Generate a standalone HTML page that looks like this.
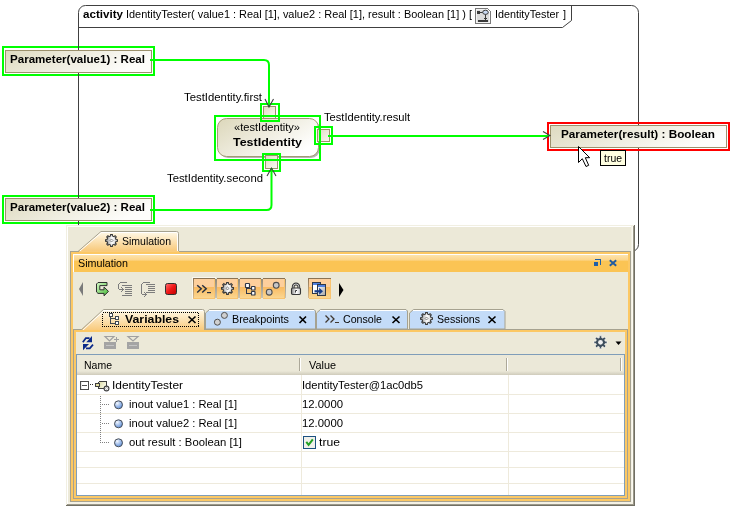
<!DOCTYPE html>
<html><head><meta charset="utf-8">
<style>
html,body{margin:0;padding:0;background:#fff;}
body{width:734px;height:510px;overflow:hidden;position:relative;}
svg{position:absolute;left:0;top:0;will-change:transform;}
text{font-family:"Liberation Sans",sans-serif;font-size:11px;fill:#000;}
.b{font-weight:bold;}
</style></head>
<body>
<svg width="734" height="510" viewBox="0 0 734 510">
<defs>
  <linearGradient id="gParam" x1="0" y1="0" x2="1" y2="0.3">
    <stop offset="0" stop-color="#DEDAC0"/>
    <stop offset="1" stop-color="#FDFDFB"/>
  </linearGradient>
  <linearGradient id="gNode" x1="0" y1="0" x2="1" y2="0.6">
    <stop offset="0" stop-color="#DCD7BA"/>
    <stop offset="1" stop-color="#FFFFFF"/>
  </linearGradient>
  <linearGradient id="gPin" x1="0" y1="0" x2="1" y2="1">
    <stop offset="0" stop-color="#E0DCC4"/>
    <stop offset="1" stop-color="#FAF9F3"/>
  </linearGradient>
</defs>

<!-- activity frame -->
<rect x="78.5" y="5.5" width="560" height="246" rx="7" ry="7" fill="none" stroke="#404040" stroke-width="1"/>
<path d="M78 27.5 H562.5 L571.5 20.5 V5" fill="none" stroke="#404040" stroke-width="1"/>
<text x="83" y="18" class="b" textLength="40" lengthAdjust="spacingAndGlyphs">activity</text>
<text x="126" y="18" textLength="346" lengthAdjust="spacingAndGlyphs">IdentityTester( value1 : Real [1], value2 : Real [1], result : Boolean [1] ) [</text>
<!-- diagram icon -->
<g shape-rendering="crispEdges">
  <path d="M475 8 H487 L491 12 V24 H475 Z" fill="#7A7A7A"/>
  <path d="M476 9 H487 L490 12 V23 H476 Z" fill="#F4F4F4"/>
  <rect x="477" y="10" width="12" height="12" fill="#DCDCDC"/>
  <path d="M487 9 L490 12 H487 Z" fill="#FFFFFF"/>
  <rect x="477" y="11" width="3" height="3" fill="#3A3A3A"/>
  <rect x="480" y="12" width="3" height="1" fill="#3A3A3A"/>
  <rect x="485" y="14" width="1" height="6" fill="#3A3A3A"/>
  <rect x="484" y="18" width="3" height="1" fill="#3A3A3A"/>
  <rect x="478" y="20" width="10" height="2" fill="#3A3A3A"/>
</g>
<ellipse cx="485.5" cy="12.3" rx="2.8" ry="2.1" fill="#C8D8F0" stroke="#3A3A3A" stroke-width="1"/>
<text x="495" y="18" textLength="64" lengthAdjust="spacingAndGlyphs">IdentityTester</text><text x="563" y="18">]</text>

<!-- param boxes -->
<rect x="5.5" y="50.5" width="146" height="22" fill="url(#gParam)" stroke="#9C916C"/>
<text x="10" y="63" class="b" textLength="135" lengthAdjust="spacingAndGlyphs">Parameter(value1) : Real</text>
<rect x="5.5" y="198.5" width="146" height="22" fill="url(#gParam)" stroke="#9C916C"/>
<text x="10" y="211" class="b" textLength="135" lengthAdjust="spacingAndGlyphs">Parameter(value2) : Real</text>
<rect x="550.5" y="125.5" width="176" height="22" fill="url(#gParam)" stroke="#9C916C"/>
<text x="561" y="138" class="b" textLength="154" lengthAdjust="spacingAndGlyphs">Parameter(result) : Boolean</text>

<!-- node -->
<rect x="219" y="120" width="101" height="38" rx="9" ry="9" fill="#B4B4B4"/>
<rect x="217.5" y="118.5" width="101" height="38" rx="9" ry="9" fill="url(#gNode)" stroke="#A39A74"/>
<text x="234" y="131" textLength="66" lengthAdjust="spacingAndGlyphs">«testIdentity»</text>
<text x="233" y="146" class="b" textLength="69" lengthAdjust="spacingAndGlyphs">TestIdentity</text>

<!-- pins -->
<rect x="263.5" y="106.5" width="12" height="12" fill="url(#gPin)" stroke="#9C916C"/>
<rect x="265.5" y="155.5" width="12" height="13" fill="url(#gPin)" stroke="#9C916C"/>
<rect x="317.5" y="129.5" width="12" height="12" fill="url(#gPin)" stroke="#9C916C"/>

<!-- labels -->
<text x="184" y="101" textLength="78" lengthAdjust="spacingAndGlyphs">TestIdentity.first</text>
<text x="167" y="182" textLength="96" lengthAdjust="spacingAndGlyphs">TestIdentity.second</text>
<text x="324" y="121" textLength="86" lengthAdjust="spacingAndGlyphs">TestIdentity.result</text>

<!-- selection rects -->
<g fill="none" stroke="#00FF00" stroke-width="2">
  <rect x="3" y="47" width="151" height="28"/>
  <rect x="3" y="196" width="151" height="27"/>
  <rect x="215" y="116" width="105" height="44"/>
  <rect x="261" y="104" width="18" height="17"/>
  <rect x="263" y="154" width="17" height="17"/>
  <rect x="315" y="127" width="17" height="17"/>
</g>
<rect x="548" y="123" width="181" height="27" fill="none" stroke="#FF0000" stroke-width="2"/>

<g fill="#404040" shape-rendering="crispEdges">
  <rect x="78" y="45" width="1" height="4"/>
  <rect x="78" y="73" width="1" height="4"/>
  <rect x="78" y="194" width="1" height="4"/>
  <rect x="78" y="221" width="1" height="4"/>
</g>
<!-- edges -->
<g fill="none" stroke="#00FF00" stroke-width="2">
  <path d="M150 60 H264 Q269 60 269 65 V107"/>
  <path d="M150 210 H266.5 Q271.5 210 271.5 205 V168"/>
  <path d="M328 136 H549"/>
</g>
<g fill="none" stroke="#404040" stroke-width="1.1">
  <path d="M265 99 L269 107 L273.5 99"/>
  <path d="M267 176 L271.5 168 L276 176"/>
  <path d="M543 131.5 L550 135.5 L543 139.5"/>
</g>

<!-- cursor -->
<path d="M578.5 146.5 V162.5 L582.3 158.7 L586 166.5 L588.7 165.3 L585.3 157.7 L589.7 157.7 Z" fill="#fff" stroke="#000" stroke-width="1"/>
<!-- tooltip -->
<rect x="600.5" y="150.5" width="25" height="15" fill="#FFFFE1" stroke="#000"/>
<text x="604" y="162" style="font-size:10px" textLength="18" lengthAdjust="spacingAndGlyphs">true</text>
</svg>

<svg width="734" height="510" viewBox="0 0 734 510" shape-rendering="crispEdges">
<defs>
  <linearGradient id="gTabSel" x1="0" y1="0" x2="0" y2="1">
    <stop offset="0" stop-color="#FFFAEA"/>
    <stop offset="1" stop-color="#F8C878"/>
  </linearGradient>
  <linearGradient id="gTitle" x1="0" y1="0" x2="0" y2="1">
    <stop offset="0" stop-color="#FDE3AC"/>
    <stop offset="0.3" stop-color="#FCD58A"/>
    <stop offset="0.36" stop-color="#FBC454"/>
    <stop offset="1" stop-color="#FBC454"/>
  </linearGradient>
  <linearGradient id="gBtn" x1="0" y1="0" x2="0" y2="1">
    <stop offset="0" stop-color="#FCD6AC"/>
    <stop offset="0.45" stop-color="#FBCB98"/>
    <stop offset="0.5" stop-color="#F9BD70"/>
    <stop offset="1" stop-color="#FAC77E"/>
  </linearGradient>
  <linearGradient id="gBtnLo" x1="0" y1="0" x2="0" y2="1">
    <stop offset="0" stop-color="#F9BA60"/>
    <stop offset="1" stop-color="#FBD690"/>
  </linearGradient>
  <linearGradient id="gBtnL" x1="0" y1="0" x2="0" y2="1">
    <stop offset="0" stop-color="#8C7454"/>
    <stop offset="1" stop-color="#D8B888"/>
  </linearGradient>
  <linearGradient id="gBtnGap" x1="0" y1="0" x2="0" y2="1">
    <stop offset="0" stop-color="#948A76"/>
    <stop offset="1" stop-color="#C8C2B2"/>
  </linearGradient>
  <linearGradient id="gSilver2" x1="0" y1="0" x2="1" y2="1">
    <stop offset="0" stop-color="#FFFFFF"/>
    <stop offset="1" stop-color="#A8A8A8"/>
  </linearGradient>
  <radialGradient id="gBall" cx="0.35" cy="0.3" r="0.75">
    <stop offset="0" stop-color="#F4F8FF"/>
    <stop offset="1" stop-color="#5A8CD8"/>
  </radialGradient>
  <linearGradient id="gClass" x1="0" y1="0" x2="1" y2="0.4">
    <stop offset="0" stop-color="#DCDCA8"/>
    <stop offset="1" stop-color="#F8F8E4"/>
  </linearGradient>
  <linearGradient id="gHdr" x1="0" y1="0" x2="0" y2="1">
    <stop offset="0" stop-color="#EBE8D8"/>
    <stop offset="0.8" stop-color="#EBE8D8"/>
    <stop offset="1" stop-color="#CFCBBB"/>
  </linearGradient>
  <linearGradient id="gSilver" x1="0" y1="0" x2="1" y2="0">
    <stop offset="0" stop-color="#8C8C8C"/>
    <stop offset="0.55" stop-color="#FFFFFF"/>
    <stop offset="1" stop-color="#C8C8C8"/>
  </linearGradient>
  <linearGradient id="gGreen" x1="0" y1="0" x2="1" y2="1">
    <stop offset="0" stop-color="#D8F8C8"/>
    <stop offset="1" stop-color="#40B830"/>
  </linearGradient>
  <linearGradient id="gRed" x1="0" y1="0" x2="1" y2="1">
    <stop offset="0" stop-color="#FF7070"/>
    <stop offset="0.5" stop-color="#F01818"/>
    <stop offset="1" stop-color="#C00000"/>
  </linearGradient>
</defs>
<!-- panel body -->
<rect x="66" y="225" width="569" height="281" fill="#ECE9D8"/>
<rect x="66" y="225" width="568" height="1" fill="#F1EFE2"/>
<rect x="66" y="225" width="1" height="280" fill="#F1EFE2"/>
<rect x="67" y="226" width="566" height="1" fill="#FFFFFF"/>
<rect x="67" y="226" width="1" height="278" fill="#FFFFFF"/>
<rect x="631" y="226" width="1" height="278" fill="#F4F1E4"/>
<rect x="632" y="226" width="1" height="278" fill="#FBFAF2"/>
<rect x="633" y="226" width="1" height="279" fill="#9C998A"/>
<rect x="634" y="225" width="1" height="281" fill="#716F64"/>
<rect x="68" y="502" width="565" height="2" fill="#F4F1E4"/>
<rect x="67" y="504" width="567" height="1" fill="#9C998A"/>
<rect x="66" y="505" width="569" height="1" fill="#716F64"/>

<!-- outer orange frame -->
<rect x="70" y="251" width="561" height="251" fill="#A6A290"/>
<rect x="71" y="252" width="559" height="249" fill="#FCC864"/>
<rect x="73" y="254" width="555" height="245" fill="#ECE9D8"/>
<!-- title bar -->
<rect x="73" y="254" width="555" height="1" fill="#FFFFFF"/>
<rect x="73" y="254" width="1" height="18" fill="#FFFFFF"/>
<rect x="74" y="255" width="554" height="17" fill="url(#gTitle)"/>
<text x="78" y="267" textLength="50" lengthAdjust="spacingAndGlyphs">Simulation</text>
<!-- restore & close icons -->
<g fill="#1F5FA8">
  <rect x="595" y="259" width="6" height="1"/>
  <rect x="600" y="259" width="1" height="6"/>
  <rect x="595" y="262" width="1" height="1"/>
  <rect x="594" y="262" width="4" height="4"/>
</g>
<path d="M609.8 260.3 L616.2 265.7 M616.2 260.3 L609.8 265.7" stroke="#1E5AA0" stroke-width="1.9" shape-rendering="auto"/>

<!-- top Simulation tab -->
<path d="M78 251.5 L101 231.5 H176.5 Q178.5 231.5 178.5 233.5 V251.5 Z" fill="url(#gTabSel)" stroke="#A6A290" stroke-width="1" shape-rendering="auto"/>
<path d="M80 251 L101.5 232.5 H176.5 Q177.5 232.5 177.5 233.5 V251" fill="none" stroke="#FFFFFF" stroke-width="1" shape-rendering="auto"/>
<rect x="79" y="251" width="100" height="1" fill="#F9CC7C"/>
<g shape-rendering="auto">
  <path d="M117.44 239.65 L117.44 241.35 L116.01 241.42 L115.34 243.04 L116.30 244.10 L115.10 245.30 L114.04 244.34 L112.42 245.01 L112.35 246.44 L110.65 246.44 L110.58 245.01 L108.96 244.34 L107.90 245.30 L106.70 244.10 L107.66 243.04 L106.99 241.42 L105.56 241.35 L105.56 239.65 L106.99 239.58 L107.66 237.96 L106.70 236.90 L107.90 235.70 L108.96 236.66 L110.58 235.99 L110.65 234.56 L112.35 234.56 L112.42 235.99 L114.04 236.66 L115.10 235.70 L116.30 236.90 L115.34 237.96 L116.01 239.58 Z" fill="url(#gSilver)" stroke="#383838" stroke-width="1.1"/>
  <path d="M111.5 239 L113 240.5 L111.5 242 L110 240.5 Z" fill="none" stroke="#707070" stroke-width="0.8"/>
</g>
<text x="122" y="245" textLength="49" lengthAdjust="spacingAndGlyphs">Simulation</text>

<!-- toolbar -->
<g shape-rendering="auto">
  <path d="M83 282 L79 289 L83 296 Z" fill="#7A7A7A"/>
  <path d="M96.5 284 L98 282.5 H107 V285.6 H99.8 V289.8 H104 V287 L108.5 291.4 L104 295.8 V293.4 H98 L96.5 292 Z" fill="url(#gGreen)" stroke="#303030" stroke-width="1"/>
  <g fill="#7C7C7C" shape-rendering="crispEdges">
    <rect x="120" y="282" width="7" height="1"/>
    <rect x="119" y="283" width="1" height="1"/>
    <rect x="118" y="284" width="1" height="5"/>
    <rect x="119" y="289" width="5" height="1"/>
    <rect x="121" y="287" width="1" height="1"/><rect x="122" y="288" width="1" height="1"/>
    <rect x="122" y="290" width="1" height="1"/><rect x="121" y="291" width="1" height="1"/>
    <rect x="122" y="285" width="10" height="1"/>
    <rect x="125" y="287" width="7" height="1"/>
    <rect x="125" y="289" width="7" height="1"/>
    <rect x="125" y="291" width="7" height="1"/>
    <rect x="125" y="293" width="7" height="1"/>
    <rect x="122" y="295" width="10" height="1"/>
    <rect x="143" y="282" width="7" height="1"/>
    <rect x="142" y="283" width="1" height="1"/>
    <rect x="141" y="284" width="1" height="10"/>
    <rect x="142" y="294" width="5" height="1"/>
    <rect x="144" y="292" width="1" height="1"/><rect x="145" y="293" width="1" height="1"/>
    <rect x="145" y="295" width="1" height="1"/><rect x="144" y="296" width="1" height="1"/>
    <rect x="146" y="284" width="9" height="1"/>
    <rect x="148" y="286" width="7" height="1"/>
    <rect x="148" y="288" width="7" height="1"/>
    <rect x="148" y="290" width="7" height="1"/>
    <rect x="146" y="292" width="9" height="1"/>
  </g>
  <rect x="165.5" y="283.5" width="11" height="11" rx="2" ry="2" fill="url(#gRed)" stroke="#303030" stroke-width="1"/>
</g>
<!-- toggle buttons -->
<g>
  <rect x="192" y="277" width="24" height="1" fill="#FAF8F0"/>
  <rect x="192" y="277" width="1" height="22" fill="#FAF8F0"/>
  <rect x="193" y="278" width="22" height="21" fill="#F9C470"/>
  <rect x="193" y="279" width="21" height="8" fill="#FDCF9C"/>
  <rect x="193" y="287" width="21" height="11" fill="url(#gBtnLo)"/>
  <rect x="193" y="278" width="22" height="1" fill="#8C7454"/>
  <rect x="217" y="278" width="21" height="21" fill="#F9C470"/>
  <rect x="217" y="279" width="20" height="8" fill="#FDCF9C"/>
  <rect x="217" y="287" width="20" height="11" fill="url(#gBtnLo)"/>
  <rect x="217" y="278" width="21" height="1" fill="#8C7454"/>
  <rect x="240" y="278" width="21" height="21" fill="#F9C470"/>
  <rect x="240" y="279" width="20" height="8" fill="#FDCF9C"/>
  <rect x="240" y="287" width="20" height="11" fill="url(#gBtnLo)"/>
  <rect x="240" y="278" width="21" height="1" fill="#8C7454"/>
  <rect x="263" y="278" width="22" height="21" fill="#F9C470"/>
  <rect x="263" y="279" width="21" height="8" fill="#FDCF9C"/>
  <rect x="263" y="287" width="21" height="11" fill="url(#gBtnLo)"/>
  <rect x="263" y="278" width="22" height="1" fill="#8C7454"/>
  <rect x="309" y="278" width="22" height="21" fill="#F9C470"/>
  <rect x="309" y="279" width="21" height="8" fill="#FDCF9C"/>
  <rect x="309" y="287" width="21" height="11" fill="url(#gBtnLo)"/>
  <rect x="309" y="278" width="22" height="1" fill="#8C7454"/>
  <rect x="193" y="278" width="1" height="20" fill="url(#gBtnL)"/>
  <rect x="215" y="279" width="2" height="19" fill="url(#gBtnGap)"/>
  <rect x="238" y="279" width="2" height="19" fill="url(#gBtnGap)"/>
  <rect x="261" y="279" width="2" height="19" fill="url(#gBtnGap)"/>
  <rect x="285" y="279" width="1" height="19" fill="url(#gBtnGap)"/>
  <rect x="308" y="278" width="1" height="20" fill="url(#gBtnL)"/>
</g>
<g shape-rendering="auto">
  <!-- >>_ -->
  <path d="M197.2 285.2 L201.2 288.8 L197.2 292.5 M202.2 285.2 L206.2 288.8 L202.2 292.5" fill="none" stroke="#283040" stroke-width="1.5"/>
  <rect x="207" y="292" width="4" height="1.2" fill="#283040"/>
  <!-- gear -->
  <path d="M233.44 287.55 L233.44 289.25 L232.01 289.32 L231.34 290.94 L232.30 292.00 L231.10 293.20 L230.04 292.24 L228.42 292.91 L228.35 294.34 L226.65 294.34 L226.58 292.91 L224.96 292.24 L223.90 293.20 L222.70 292.00 L223.66 290.94 L222.99 289.32 L221.56 289.25 L221.56 287.55 L222.99 287.48 L223.66 285.86 L222.70 284.80 L223.90 283.60 L224.96 284.56 L226.58 283.89 L226.65 282.46 L228.35 282.46 L228.42 283.89 L230.04 284.56 L231.10 283.60 L232.30 284.80 L231.34 285.86 L232.01 287.48 Z" fill="url(#gSilver)" stroke="#383838" stroke-width="1.1"/>
  <path d="M227.5 287 L229 288.4 L227.5 290 L226 288.4 Z" fill="none" stroke="#707070" stroke-width="0.8"/>
  <!-- tree -->
  <g fill="#303848" shape-rendering="crispEdges">
    <rect x="246" y="287" width="1" height="7"/>
    <rect x="246" y="288" width="6" height="1"/>
    <rect x="246" y="293" width="6" height="1"/>
  </g>
  <rect x="245.5" y="283.5" width="4" height="4" rx="0.6" fill="#fff" stroke="#303848" stroke-width="1.2"/>
  <rect x="251.5" y="286.5" width="3.5" height="3.5" rx="0.6" fill="#fff" stroke="#303848" stroke-width="1.2"/>
  <rect x="251.5" y="291.5" width="3.5" height="3.5" rx="0.6" fill="#fff" stroke="#303848" stroke-width="1.2"/>
  <!-- breakpoints -->
  <circle cx="269.2" cy="292.2" r="2.9" fill="#C8C8C8" stroke="#505050" stroke-width="1.1"/>
  <circle cx="276.2" cy="285.3" r="2.9" fill="#C8C8C8" stroke="#505050" stroke-width="1.1"/>
  <!-- lock -->
  <path d="M293.2 289 V286.8 A2.8 2.8 0 0 1 298.8 286.8 V289" fill="none" stroke="#383838" stroke-width="2.8"/>
  <path d="M293.2 289 V286.8 A2.8 2.8 0 0 1 298.8 286.8 V289" fill="none" stroke="#D8D8D8" stroke-width="0.9"/>
  <rect x="291.5" y="288" width="9" height="6.5" rx="1.2" fill="url(#gSilver)" stroke="#383838" stroke-width="1.1"/>
  <path d="M295.5 292.5 V290.5 H297" fill="none" stroke="#383838" stroke-width="1"/>
  <!-- windows icon -->
  <g shape-rendering="crispEdges">
  <rect x="312" y="282" width="9" height="12" fill="#303848"/>
  <rect x="313" y="283" width="7" height="10" fill="#FFFFFF"/>
  <rect x="313" y="283" width="7" height="2" fill="#5080E0"/>
  <rect x="317" y="284" width="9" height="12" fill="#303848"/>
  <rect x="318" y="285" width="7" height="10" fill="url(#gSilver2)"/>
  <rect x="318" y="285" width="7" height="2" fill="#5080E0"/>
  </g>
  <path d="M314.5 291.3 H320" stroke="#183C88" stroke-width="2.2" fill="none"/>
  <path d="M319.2 287.8 L323 291.3 L319.2 294.8 Z" fill="#183C88"/>
  <!-- right arrow -->
  <path d="M339 283 L343.5 290 L339 297 Z" fill="#000"/>
</g>

<!-- inner tab frame -->
<rect x="73" y="329" width="555" height="170" fill="#A6A290"/>
<rect x="74" y="330" width="553" height="168" fill="#FCC864"/>
<rect x="76" y="332" width="549" height="164" fill="#ECE9D8"/>

<!-- tabs -->
<g shape-rendering="auto">
  <!-- Variables (selected) -->
  <path d="M80 331 L103.5 309.5 H202.5 Q204.5 309.5 204.5 311.5 V331 Z" fill="url(#gTabSel)" stroke="#A6A290" stroke-width="1"/>
  <path d="M82 331 L104 310.5 H203" fill="none" stroke="#FFFFFF" stroke-width="1"/>
  <!-- Breakpoints -->
  <path d="M205.5 329 V313 L209.5 309.5 H314 L315.5 311 V329 Z" fill="#C3DBF8" stroke="#A6A290" stroke-width="1"/>
  <path d="M209 310.5 H314" stroke="#FFFFFF" stroke-width="1"/>
  <!-- Console -->
  <path d="M316.5 329 V313 L320.5 309.5 H406 L407.5 311 V329 Z" fill="#C3DBF8" stroke="#A6A290" stroke-width="1"/>
  <path d="M320 310.5 H406" stroke="#FFFFFF" stroke-width="1"/>
  <!-- Sessions -->
  <path d="M409.5 329 V313 L413.5 309.5 H503 L505 311.5 V329 Z" fill="#C3DBF8" stroke="#A6A290" stroke-width="1"/>
  <path d="M413 310.5 H503" stroke="#FFFFFF" stroke-width="1"/>
</g>
<rect x="74" y="330" width="553" height="2" fill="#FCC864"/>
<!-- focus rect -->
<rect x="102.5" y="312.5" width="96" height="14" fill="none" stroke="#000" stroke-width="1" stroke-dasharray="1 1"/>
<!-- variables tree icon -->
<g>
  <rect x="110" y="317" width="1" height="7" fill="#404850"/>
  <rect x="110" y="318" width="6" height="1" fill="#404850"/>
  <rect x="110" y="323" width="6" height="1" fill="#404850"/>
  <rect x="109.5" y="313.5" width="3" height="3" fill="#fff" stroke="#404850"/>
  <rect x="115.5" y="316.5" width="3" height="3" fill="#fff" stroke="#404850"/>
  <rect x="115.5" y="321.5" width="3" height="3" fill="#fff" stroke="#404850"/>
</g>
<text x="125" y="323" class="b" textLength="54" lengthAdjust="spacingAndGlyphs">Variables</text>
<path d="M188.5 316.5 L195.5 323 M195.5 316.5 L188.5 323" stroke="#000" stroke-width="1.6" shape-rendering="auto"/>
<g shape-rendering="auto">
  <circle cx="217.4" cy="322.2" r="3" fill="#D0D0D0" stroke="#505050"/>
  <circle cx="224.4" cy="315.4" r="3" fill="#D0D0D0" stroke="#505050"/>
</g>
<text x="232" y="323" textLength="57" lengthAdjust="spacingAndGlyphs">Breakpoints</text>
<path d="M299.5 316.5 L306 323 M306 316.5 L299.5 323" stroke="#000" stroke-width="1.6" shape-rendering="auto"/>
<path d="M325.5 315.5 L329 319 L325.5 322.5 M330.5 315.5 L334 319 L330.5 322.5" fill="none" stroke="#403830" stroke-width="1.3" shape-rendering="auto"/>
<rect x="335" y="322" width="4" height="1" fill="#403830"/>
<text x="343" y="323" textLength="39" lengthAdjust="spacingAndGlyphs">Console</text>
<path d="M392.5 316.5 L399.5 323 M399.5 316.5 L392.5 323" stroke="#000" stroke-width="1.6" shape-rendering="auto"/>
<g shape-rendering="auto">
  <path d="M432.44 317.65 L432.44 319.35 L431.01 319.42 L430.34 321.04 L431.30 322.10 L430.10 323.30 L429.04 322.34 L427.42 323.01 L427.35 324.44 L425.65 324.44 L425.58 323.01 L423.96 322.34 L422.90 323.30 L421.70 322.10 L422.66 321.04 L421.99 319.42 L420.56 319.35 L420.56 317.65 L421.99 317.58 L422.66 315.96 L421.70 314.90 L422.90 313.70 L423.96 314.66 L425.58 313.99 L425.65 312.56 L427.35 312.56 L427.42 313.99 L429.04 314.66 L430.10 313.70 L431.30 314.90 L430.34 315.96 L431.01 317.58 Z" fill="url(#gSilver)" stroke="#383838" stroke-width="1.1"/>
  <path d="M426.5 317 L428 318.5 L426.5 320 L425 318.5 Z" fill="none" stroke="#707070" stroke-width="0.8"/>
</g>
<text x="437" y="323" textLength="43" lengthAdjust="spacingAndGlyphs">Sessions</text>
<path d="M488.5 316.5 L495.5 323 M495.5 316.5 L488.5 323" stroke="#000" stroke-width="1.6" shape-rendering="auto"/>

<!-- table toolbar -->
<g shape-rendering="auto">
  <path d="M82.8 342.2 L85.8 338.2 H89.5" fill="none" stroke="#0A2A8A" stroke-width="1.7"/>
  <path d="M92 336 V342.3 H86.3 Z" fill="#0A2A8A"/>
  <path d="M83 344 H89 L83 350.3 Z" fill="#0A2A8A"/>
  <path d="M86 348.3 H89.8 L93 344.6" fill="none" stroke="#0A2A8A" stroke-width="1.7"/>
  <path d="M105 336.5 H114 L109.5 341 Z" fill="none" stroke="#A0A0A0" stroke-width="1.2"/>
  <rect x="116" y="337" width="1" height="5" fill="#A0A0A0" shape-rendering="crispEdges"/><rect x="114" y="339" width="5" height="1" fill="#A0A0A0" shape-rendering="crispEdges"/>
  <rect x="104" y="342" width="12" height="7" fill="#A4A4A4"/>
  <rect x="106" y="345" width="8" height="1" fill="#C4C4C4"/>
  <path d="M128 336.5 H138 L133 341 Z" fill="none" stroke="#A0A0A0" stroke-width="1.2"/>
  <rect x="127" y="342" width="12" height="7" fill="#A4A4A4"/>
  <rect x="129" y="345" width="8" height="1" fill="#C4C4C4"/>
  <!-- gear right -->
  <path d="M607.00 341.14 L607.00 343.46 L605.18 343.39 L604.57 344.84 L605.91 346.07 L604.27 347.71 L603.04 346.37 L601.59 346.98 L601.66 348.80 L599.34 348.80 L599.41 346.98 L597.96 346.37 L596.73 347.71 L595.09 346.07 L596.43 344.84 L595.82 343.39 L594.00 343.46 L594.00 341.14 L595.82 341.21 L596.43 339.76 L595.09 338.53 L596.73 336.89 L597.96 338.23 L599.41 337.62 L599.34 335.80 L601.66 335.80 L601.59 337.62 L603.04 338.23 L604.27 336.89 L605.91 338.53 L604.57 339.76 L605.18 341.21 Z" fill="#3E4E5C" stroke="#FFFFFF" stroke-width="0.8" stroke-opacity="0.7"/>
  <circle cx="600.5" cy="342.3" r="2.4" fill="#F0F0F0"/>
  <path d="M615.5 341.5 H621.5 L618.5 345 Z" fill="#000"/>
</g>

<!-- table -->
<rect x="76" y="354" width="549" height="142" fill="#7F9DB9"/>
<rect x="77" y="355" width="547" height="140" fill="#FFFFFF"/>
<rect x="77" y="355" width="547" height="20" fill="url(#gHdr)"/>
<rect x="299" y="358" width="1" height="13" fill="#ACA899"/>
<rect x="300" y="358" width="1" height="13" fill="#FFFFFF"/>
<rect x="506" y="358" width="1" height="13" fill="#ACA899"/>
<rect x="507" y="358" width="1" height="13" fill="#FFFFFF"/>
<rect x="620" y="358" width="1" height="13" fill="#ACA899"/>
<rect x="621" y="358" width="1" height="13" fill="#FFFFFF"/>
<text x="84" y="369" textLength="28" lengthAdjust="spacingAndGlyphs">Name</text>
<text x="309" y="369" textLength="27" lengthAdjust="spacingAndGlyphs">Value</text>
<g fill="#EEEADC">
  <rect x="77" y="394" width="547" height="1"/>
  <rect x="77" y="413" width="547" height="1"/>
  <rect x="77" y="432" width="547" height="1"/>
  <rect x="77" y="451" width="547" height="1"/>
  <rect x="77" y="467" width="547" height="1"/>
  <rect x="77" y="483" width="547" height="1"/>
  <rect x="301" y="375" width="1" height="120"/>
  <rect x="508" y="375" width="1" height="120"/>
</g>
<!-- row 1 -->
<g shape-rendering="crispEdges">
  <rect x="80" y="381" width="9" height="9" fill="#4A4A4A"/>
  <rect x="81" y="382" width="7" height="7" fill="#FFFFFF"/>
  <rect x="81" y="382" width="1" height="7" fill="#E8E8E8"/>
  <rect x="82" y="385" width="5" height="1" fill="#505050"/>
  <rect x="90" y="384" width="1" height="1" fill="#303030"/><rect x="92" y="384" width="1" height="1" fill="#303030"/>
  <path d="M99 381 H107 V389 H98 V382 Z" fill="#404040"/>
  <rect x="99" y="382" width="7" height="6" fill="url(#gClass)"/>
  <rect x="95" y="383" width="5" height="4" fill="#404040"/>
  <rect x="96" y="384" width="3" height="2" fill="#E4E0A4"/>
</g>
<circle cx="106.5" cy="388.5" r="2.4" fill="#FFFFFF" stroke="#404040" stroke-width="1.1" shape-rendering="auto"/>
<path d="M106.5 387.3 L107.7 388.5 L106.5 389.7 L105.3 388.5 Z" fill="none" stroke="#808080" stroke-width="0.6" shape-rendering="auto"/>
<text x="112" y="389" textLength="71" lengthAdjust="spacingAndGlyphs">IdentityTester</text>
<text x="302" y="389" textLength="121" lengthAdjust="spacingAndGlyphs">IdentityTester@1ac0db5</text>
<!-- tree lines -->
<g fill="#808080">
  <rect x="100" y="396" width="1" height="1"/><rect x="100" y="398" width="1" height="1"/><rect x="100" y="400" width="1" height="1"/><rect x="100" y="402" width="1" height="1"/><rect x="100" y="404" width="1" height="1"/><rect x="100" y="406" width="1" height="1"/><rect x="100" y="408" width="1" height="1"/><rect x="100" y="410" width="1" height="1"/><rect x="100" y="412" width="1" height="1"/><rect x="100" y="414" width="1" height="1"/><rect x="100" y="416" width="1" height="1"/><rect x="100" y="418" width="1" height="1"/><rect x="100" y="420" width="1" height="1"/><rect x="100" y="422" width="1" height="1"/><rect x="100" y="424" width="1" height="1"/><rect x="100" y="426" width="1" height="1"/><rect x="100" y="428" width="1" height="1"/><rect x="100" y="430" width="1" height="1"/><rect x="100" y="432" width="1" height="1"/><rect x="100" y="434" width="1" height="1"/><rect x="100" y="436" width="1" height="1"/><rect x="100" y="438" width="1" height="1"/><rect x="100" y="440" width="1" height="1"/><rect x="100" y="442" width="1" height="1"/>
  <rect x="102" y="404" width="1" height="1"/><rect x="104" y="404" width="1" height="1"/><rect x="106" y="404" width="1" height="1"/><rect x="108" y="404" width="1" height="1"/>
  <rect x="102" y="423" width="1" height="1"/><rect x="104" y="423" width="1" height="1"/><rect x="106" y="423" width="1" height="1"/><rect x="108" y="423" width="1" height="1"/>
  <rect x="102" y="442" width="1" height="1"/><rect x="104" y="442" width="1" height="1"/><rect x="106" y="442" width="1" height="1"/><rect x="108" y="442" width="1" height="1"/>
</g>
<g shape-rendering="auto">
  <circle cx="118.5" cy="404.8" r="4" fill="url(#gBall)" stroke="#4A5058"/>
  <circle cx="118.5" cy="423.8" r="4" fill="url(#gBall)" stroke="#4A5058"/>
  <circle cx="118.5" cy="442.8" r="4" fill="url(#gBall)" stroke="#4A5058"/>
</g>
<text x="129" y="408" textLength="108" lengthAdjust="spacingAndGlyphs">inout value1 : Real [1]</text>
<text x="129" y="427" textLength="108" lengthAdjust="spacingAndGlyphs">inout value2 : Real [1]</text>
<text x="129" y="446" textLength="113" lengthAdjust="spacingAndGlyphs">out result : Boolean [1]</text>
<text x="302" y="408" textLength="41" lengthAdjust="spacingAndGlyphs">12.0000</text>
<text x="302" y="427" textLength="41" lengthAdjust="spacingAndGlyphs">12.0000</text>
<!-- checkbox -->
<rect x="303" y="436" width="13" height="13" fill="#1C5180"/>
<rect x="304" y="437" width="11" height="11" fill="#F0F0EA"/>
<path d="M306.3 441.8 L308.6 444.8 L312.8 439.3" fill="none" stroke="#21A121" stroke-width="2" shape-rendering="auto"/>
<text x="319" y="446" textLength="21" lengthAdjust="spacingAndGlyphs">true</text>
</svg>
</body></html>
